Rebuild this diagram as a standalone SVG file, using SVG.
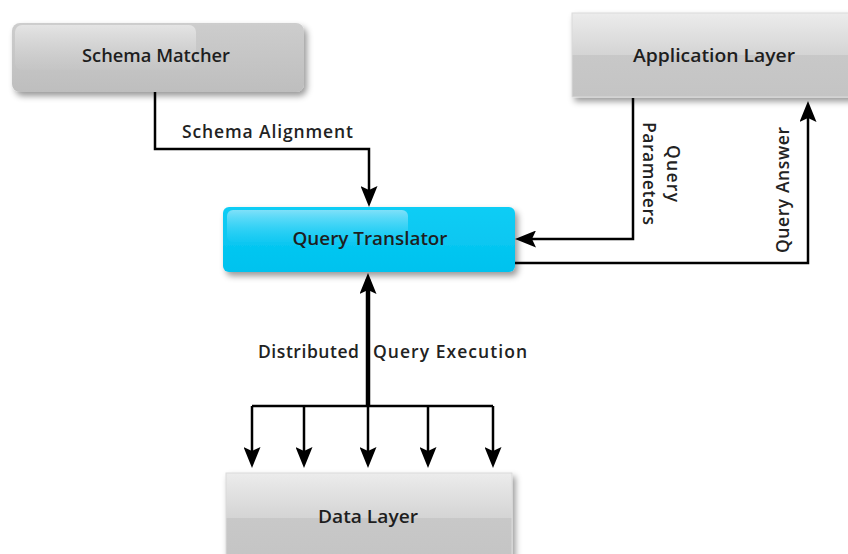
<svg xmlns="http://www.w3.org/2000/svg" width="848" height="554" viewBox="0 0 848 554">
  <defs>
    <style>
      .lbl { font-family: "Open Sans", "DejaVu Sans", sans-serif; font-size: 18px; font-weight: 600; fill: #1e1e1e; text-anchor: middle; }
      .edge-lbl { font-family: "Open Sans", "DejaVu Sans", sans-serif; font-size: 17.5px; font-weight: 600; fill: #222; }
      .wire { fill: none; stroke: #000; stroke-width: 2.5; }
      .wire-thick { fill: none; stroke: #000; stroke-width: 4.5; }
    </style>
    <linearGradient id="grayRound" x1="0" y1="0" x2="0" y2="1">
      <stop offset="0" stop-color="#cdcdcd"/>
      <stop offset="1" stop-color="#bebebe"/>
    </linearGradient>
    <linearGradient id="grayGloss" x1="0" y1="0" x2="0" y2="1">
      <stop offset="0" stop-color="#e4e4e4"/>
      <stop offset="1" stop-color="#d0d0d0" stop-opacity="0.15"/>
    </linearGradient>
    <linearGradient id="grayLayer" x1="0" y1="0" x2="0" y2="1">
      <stop offset="0" stop-color="#ececec"/>
      <stop offset="0.5" stop-color="#d4d4d4"/>
      <stop offset="0.5" stop-color="#c8c8c8"/>
      <stop offset="1" stop-color="#c4c4c4"/>
    </linearGradient>
    <linearGradient id="cyanFill" x1="0" y1="0" x2="0" y2="1">
      <stop offset="0" stop-color="#10cdf5"/>
      <stop offset="1" stop-color="#00c2ee"/>
    </linearGradient>
    <linearGradient id="cyanGloss" x1="0" y1="0" x2="0" y2="1">
      <stop offset="0" stop-color="#7fe0f9"/>
      <stop offset="1" stop-color="#3fd4f7" stop-opacity="0.1"/>
    </linearGradient>
    <filter id="shadow" x="-10%" y="-20%" width="125%" height="150%">
      <feDropShadow dx="3" dy="4" stdDeviation="3" flood-color="#000" flood-opacity="0.4"/>
    </filter>
    <!-- shared arrowhead, sized in user units so thick and thin wires get the same head -->
    <marker id="arrow" viewBox="0 0 21 17" refX="15" refY="8.5" markerWidth="21" markerHeight="17" markerUnits="userSpaceOnUse" orient="auto">
      <path d="M0,0 L21,8.5 L0,17 L4,8.5 z" fill="#000"/>
    </marker>
  </defs>

  <rect width="848" height="554" fill="#fff"/>

  <!-- Schema Matcher -->
  <g id="schema-matcher">
    <rect x="12" y="23" width="292" height="69" rx="8" fill="url(#grayRound)" filter="url(#shadow)"/>
    <rect x="15" y="25" width="181" height="45" rx="7" fill="url(#grayGloss)"/>
    <text class="lbl" x="156" y="62" textLength="148" lengthAdjust="spacingAndGlyphs">Schema Matcher</text>
  </g>

  <!-- Application Layer -->
  <g id="application-layer">
    <rect x="572" y="13" width="290" height="84" fill="url(#grayLayer)" stroke="#dadada" stroke-width="1" filter="url(#shadow)"/>
    <text class="lbl" x="714" y="62" textLength="162" lengthAdjust="spacingAndGlyphs">Application Layer</text>
  </g>

  <!-- Query Translator -->
  <g id="query-translator">
    <rect x="223" y="207" width="292" height="65" rx="6" fill="url(#cyanFill)" filter="url(#shadow)"/>
    <rect x="227" y="210" width="181" height="32" rx="6" fill="url(#cyanGloss)"/>
    <text class="lbl" x="370" y="245" textLength="155" lengthAdjust="spacingAndGlyphs">Query Translator</text>
  </g>

  <!-- Data Layer -->
  <g id="data-layer">
    <rect x="226" y="473" width="286" height="90" fill="url(#grayLayer)" stroke="#dadada" stroke-width="1" filter="url(#shadow)"/>
    <text class="lbl" x="368" y="523" textLength="100" lengthAdjust="spacingAndGlyphs">Data Layer</text>
  </g>

  <!-- Connectors -->
  <g id="connectors">
    <path class="wire" d="M155,92 V149 H369 V201" marker-end="url(#arrow)"/>
    <path class="wire" d="M633,98 V239 H521" marker-end="url(#arrow)"/>
    <path class="wire" d="M515,263 H808 V107" marker-end="url(#arrow)"/>
    <path class="wire-thick" d="M368,406 V279" marker-end="url(#arrow)"/>
    <path class="wire" d="M252,406 H493"/>
    <path class="wire" d="M252,406 V462" marker-end="url(#arrow)"/>
    <path class="wire" d="M304,406 V462" marker-end="url(#arrow)"/>
    <path class="wire" d="M368,406 V462" marker-end="url(#arrow)"/>
    <path class="wire" d="M428,406 V462" marker-end="url(#arrow)"/>
    <path class="wire" d="M493,406 V462" marker-end="url(#arrow)"/>

    <text class="edge-lbl" x="182" y="138" textLength="171" lengthAdjust="spacing">Schema Alignment</text>
    <text class="edge-lbl" y="358"><tspan x="258" textLength="101" lengthAdjust="spacing">Distributed</tspan><tspan x="373" textLength="154" lengthAdjust="spacing">Query Execution</tspan></text>
    <g transform="translate(655,173) rotate(90)">
      <text class="edge-lbl" x="-28" y="-12" textLength="57" lengthAdjust="spacing">Query</text>
      <text class="edge-lbl" x="-51" y="12" textLength="103" lengthAdjust="spacing">Parameters</text>
    </g>
    <text class="edge-lbl" transform="translate(789,190) rotate(-90)" x="-63" y="0" textLength="126" lengthAdjust="spacing">Query Answer</text>
  </g>
</svg>
